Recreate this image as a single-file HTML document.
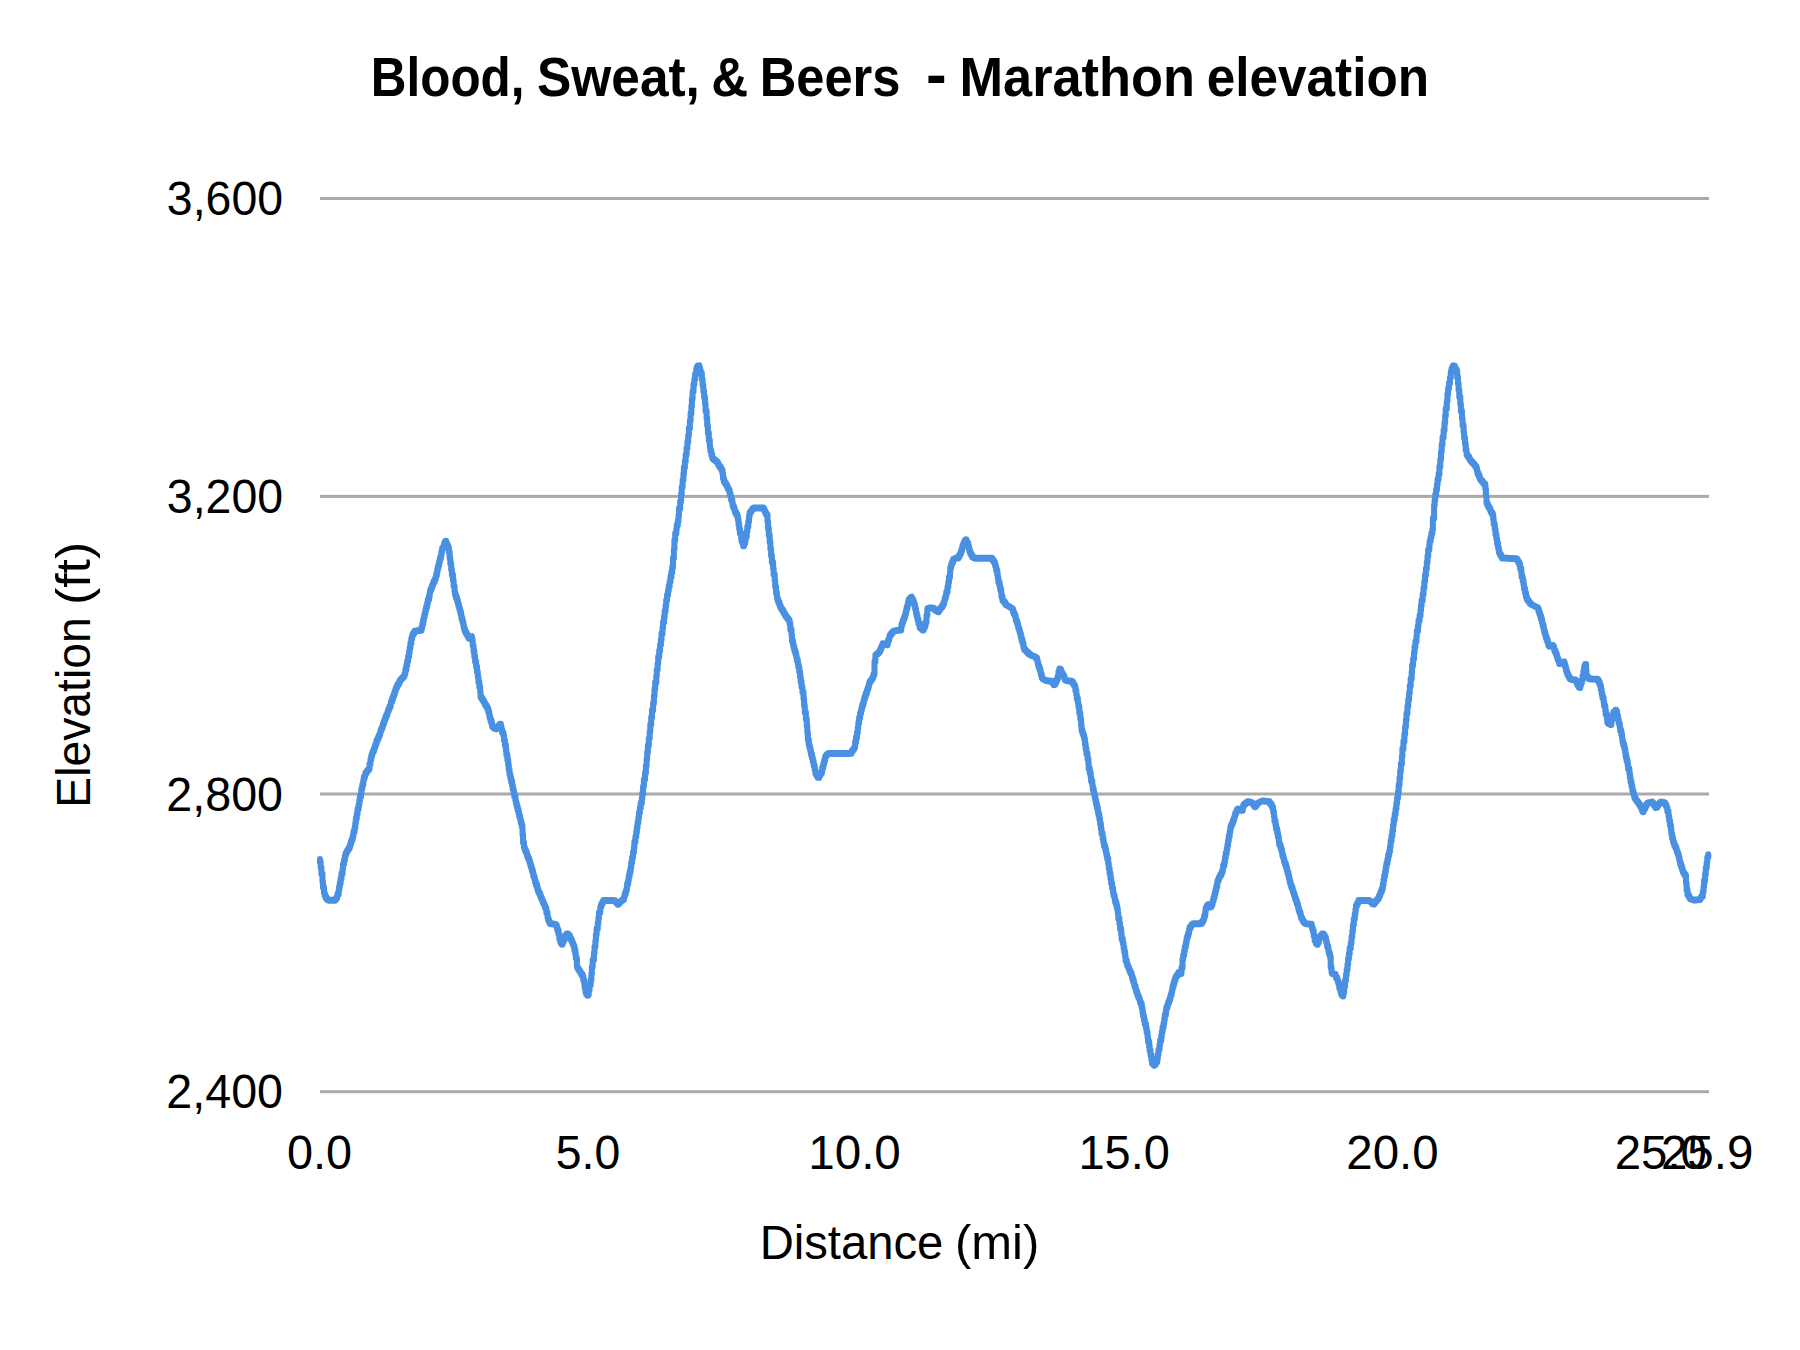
<!DOCTYPE html>
<html><head><meta charset="utf-8"><title>Blood, Sweat, &amp; Beers - Marathon elevation</title>
<style>
html,body{margin:0;padding:0;background:#fff;}
svg{display:block;}
text{font-family:"Liberation Sans",sans-serif;fill:#000;white-space:pre;}
</style></head><body>
<svg width="1800" height="1350" viewBox="0 0 1800 1350">
<rect width="1800" height="1350" fill="#ffffff"/>
<rect x="320" y="197" width="1389" height="3" fill="#aaaaaa"/><rect x="320" y="494.9" width="1389" height="3" fill="#aaaaaa"/><rect x="320" y="792.5" width="1389" height="3" fill="#aaaaaa"/><rect x="320" y="1090.2" width="1389" height="3" fill="#aaaaaa"/>
<g transform="scale(1,1.15)"><polyline fill="none" stroke="#4a90e2" stroke-width="6.05" stroke-linejoin="round" stroke-linecap="round" points="320.0,747.39 320.0,749.74 320.7,749.74 320.7,754.45 321.4,754.45 321.4,760.00 322.5,760.00 322.5,766.96 323.0,766.96 323.0,771.74 324.0,771.74 324.0,776.52 324.7,776.52 324.7,778.35 325.4,778.35 325.4,780.17 326.4,780.17 326.4,781.53 327.0,781.53 327.0,782.12 328.0,782.12 328.0,782.71 328.6,782.75 329.4,782.78 330.4,782.78 331.4,782.78 331.8,782.78 332.7,782.78 333.7,782.78 334.6,782.78 335.2,782.78 335.2,782.07 336.0,782.07 336.0,781.13 337.0,781.13 337.0,779.86 337.4,779.86 337.4,777.61 338.6,777.61 338.6,774.67 339.1,774.67 339.1,771.31 339.8,771.31 339.8,767.95 340.6,767.95 340.6,763.90 341.5,763.90 341.5,759.62 342.6,759.62 342.6,755.34 343.0,755.34 343.0,751.40 344.0,751.40 344.0,748.02 344.9,748.02 344.9,744.63 345.5,744.63 345.5,742.34 346.4,742.34 346.4,741.14 347.0,741.14 347.0,739.93 347.8,739.93 347.8,738.72 348.7,738.72 348.7,737.51 349.7,737.51 349.7,735.67 350.4,735.67 350.4,733.62 351.1,733.62 351.1,731.57 352.0,731.57 352.0,729.53 352.8,729.53 352.8,726.74 353.5,726.74 353.5,723.22 354.6,723.22 354.6,719.71 355.3,719.71 355.3,715.72 355.9,715.72 355.9,711.57 356.8,711.57 356.8,707.42 357.6,707.42 357.6,703.43 358.6,703.43 358.6,699.91 359.3,699.91 359.3,696.39 359.9,696.39 359.9,692.87 361.0,692.87 361.0,689.34 361.4,689.34 361.4,685.76 362.4,685.76 362.4,682.18 363.3,682.18 363.3,678.60 363.8,678.60 363.8,676.13 364.8,676.13 364.8,674.28 365.4,674.28 365.4,672.44 366.5,672.44 366.5,670.98 367.3,670.98 367.3,670.16 368.0,670.16 368.0,669.34 369.0,669.34 369.0,668.47 369.5,668.47 369.5,664.43 370.5,664.43 370.5,660.38 371.3,660.38 371.3,657.18 372.1,657.18 372.1,655.28 372.8,655.28 372.8,653.39 373.8,653.39 373.8,651.50 374.6,651.50 374.6,649.60 375.2,649.60 375.2,647.71 376.1,647.71 376.1,645.82 376.6,645.82 376.6,643.92 377.7,643.92 377.7,642.08 378.5,642.08 378.5,640.26 379.5,640.26 379.5,638.43 380.2,638.43 380.2,636.61 380.7,636.61 380.7,634.78 381.6,634.78 381.6,632.96 382.5,632.96 382.5,631.13 383.0,631.13 383.0,629.30 384.0,629.30 384.0,627.44 384.6,627.44 384.6,625.58 385.4,625.58 385.4,623.72 386.2,623.72 386.2,621.86 387.3,621.86 387.3,620.00 387.8,620.00 387.8,618.15 388.7,618.15 388.7,616.29 389.6,616.29 389.6,614.31 390.6,614.31 390.6,612.22 391.0,612.22 391.0,610.13 392.0,610.13 392.0,608.05 392.8,608.05 392.8,605.96 393.8,605.96 393.8,603.87 394.6,603.87 394.6,601.78 395.4,601.78 395.4,599.70 395.9,599.70 395.9,598.25 396.8,598.25 396.8,596.87 397.5,596.87 397.5,595.50 398.6,595.50 398.6,594.12 399.4,594.12 399.4,592.75 399.8,592.75 399.8,591.78 400.7,591.78 400.7,590.94 401.5,590.94 401.5,590.10 402.3,590.10 402.3,589.26 403.2,589.26 403.2,588.41 404.1,588.41 404.1,587.57 404.7,587.57 404.7,585.94 405.4,585.94 405.4,582.23 406.4,582.23 406.4,578.52 407.2,578.52 407.2,574.81 408.1,574.81 408.1,570.99 409.0,570.99 409.0,567.08 409.7,567.08 409.7,563.17 410.4,563.17 410.4,559.25 411.3,559.25 411.3,555.34 412.1,555.34 412.1,552.79 412.6,552.79 412.6,551.47 413.8,551.47 413.8,550.15 414.6,550.15 414.6,548.83 415.4,548.73 416.2,548.59 416.8,548.52 417.6,548.44 418.2,548.37 419.3,548.29 419.8,548.22 420.6,548.14 421.5,548.10 421.5,545.71 422.3,545.71 422.3,542.65 423.1,542.65 423.1,539.60 423.8,539.60 423.8,536.55 424.6,536.55 424.6,533.54 425.4,533.54 425.4,530.53 426.2,530.53 426.2,527.52 427.2,527.52 427.2,524.51 427.8,524.51 427.8,521.50 429.0,521.50 429.0,518.49 429.7,518.49 429.7,515.47 430.2,515.47 430.2,513.24 431.1,513.24 431.1,511.43 431.9,511.43 431.9,509.61 432.8,509.61 432.8,507.79 433.4,507.79 433.4,505.97 434.6,505.97 434.6,504.15 435.5,504.15 435.5,502.34 436.0,502.34 436.0,500.52 436.8,500.52 436.8,497.61 437.4,497.61 437.4,494.59 438.2,494.59 438.2,491.56 439.1,491.56 439.1,488.54 439.9,488.54 439.9,485.52 441.0,485.52 441.0,482.49 441.5,482.49 441.5,479.47 442.2,479.47 442.2,476.80 443.5,476.80 443.5,475.02 444.0,475.02 444.0,473.23 444.7,473.23 444.7,471.45 445.6,471.45 445.6,470.73 446.2,470.73 446.2,472.70 447.2,472.70 447.2,474.67 448.3,474.67 448.3,476.63 449.0,476.63 449.0,480.52 449.7,480.52 449.7,485.39 450.3,485.39 450.3,490.26 451.2,490.26 451.2,495.13 451.9,495.13 451.9,500.00 453.0,500.00 453.0,504.87 453.6,504.87 453.6,509.74 454.6,509.74 454.6,514.53 455.1,514.53 455.1,517.08 455.9,517.08 455.9,519.64 457.0,519.64 457.0,522.19 457.9,522.19 457.9,524.75 458.6,524.75 458.6,527.30 459.4,527.30 459.4,529.86 460.2,529.86 460.2,532.41 461.0,532.41 461.0,535.06 461.5,535.06 461.5,537.82 462.4,537.82 462.4,540.59 463.2,540.59 463.2,543.35 463.8,543.35 463.8,546.12 464.6,546.12 464.6,548.50 465.5,548.50 465.5,549.93 466.3,549.93 466.3,551.35 467.3,551.35 467.3,552.78 468.3,552.78 468.3,554.21 468.8,554.21 468.8,555.08 469.9,554.84 470.7,554.36 471.5,553.88 472.0,553.64 472.0,556.64 472.7,556.64 472.7,561.38 473.5,561.38 473.5,566.13 474.3,566.13 474.3,570.87 475.1,570.87 475.1,575.43 476.1,575.43 476.1,579.83 477.0,579.83 477.0,584.24 477.8,584.24 477.8,588.64 478.4,588.64 478.4,593.04 479.3,593.04 479.3,597.44 480.2,597.44 480.2,601.85 480.6,601.85 480.6,606.25 481.7,606.25 481.7,607.67 482.6,607.67 482.6,608.82 483.4,608.82 483.4,609.97 484.2,609.97 484.2,611.12 484.8,611.12 484.8,612.28 485.5,612.28 485.5,613.43 486.6,613.43 486.6,614.58 487.2,614.58 487.2,616.16 488.2,616.16 488.2,618.76 489.1,618.76 489.1,621.36 489.6,621.36 489.6,623.95 490.4,623.95 490.4,626.55 491.5,626.55 491.5,629.15 492.1,629.15 492.1,631.42 492.7,631.42 492.7,632.07 493.5,632.07 493.5,632.72 494.3,632.72 494.3,633.37 495.4,633.58 496.2,633.79 496.2,633.08 496.7,633.08 496.7,632.37 497.8,632.37 497.8,631.66 498.7,631.66 498.7,630.95 499.3,630.95 499.3,630.24 500.0,630.24 500.0,629.69 500.9,629.69 500.9,632.22 501.5,632.22 501.5,634.75 502.2,634.75 502.2,637.28 503.5,637.28 503.5,639.81 504.1,639.81 504.1,643.90 504.9,643.90 504.9,648.12 505.9,648.12 505.9,652.34 506.4,652.34 506.4,656.56 507.4,656.56 507.4,660.78 508.2,660.78 508.2,665.00 508.7,665.00 508.7,669.22 509.5,669.22 509.5,673.15 510.3,673.15 510.3,676.39 511.1,676.39 511.1,679.63 512.1,679.63 512.1,682.87 512.7,682.87 512.7,686.11 513.6,686.11 513.6,689.35 514.3,689.35 514.3,692.59 515.4,692.59 515.4,695.83 516.0,695.83 516.0,698.76 516.8,698.76 516.8,701.56 517.7,701.56 517.7,704.35 518.6,704.35 518.6,707.15 519.2,707.15 519.2,709.94 520.3,709.94 520.3,712.74 520.8,712.74 520.8,715.53 521.7,715.53 521.7,718.56 522.5,718.56 522.5,725.55 523.0,725.55 523.0,732.54 524.0,732.54 524.0,736.71 524.7,736.71 524.7,738.63 525.4,738.63 525.4,740.54 526.6,740.54 526.6,742.45 527.1,742.45 527.1,744.37 528.0,744.37 528.0,746.28 529.0,746.28 529.0,748.20 529.7,748.20 529.7,750.14 530.4,750.14 530.4,752.52 531.3,752.52 531.3,754.91 532.1,754.91 532.1,757.30 533.0,757.30 533.0,759.69 533.4,759.69 533.4,762.08 534.5,762.08 534.5,764.47 535.1,764.47 535.1,766.86 535.9,766.86 535.9,769.25 537.0,769.25 537.0,771.64 537.7,771.64 537.7,774.03 538.5,774.03 538.5,775.87 539.4,775.87 539.4,777.47 540.3,777.47 540.3,779.07 540.8,779.07 540.8,780.67 541.7,780.67 541.7,782.26 542.5,782.26 542.5,783.86 543.3,783.86 543.3,785.46 544.1,785.46 544.1,787.05 544.8,787.05 544.8,788.60 545.7,788.60 545.7,790.14 546.4,790.14 546.4,793.61 547.5,793.61 547.5,797.52 548.1,797.52 548.1,799.84 549.0,799.84 549.0,801.79 549.9,801.79 549.9,803.15 550.3,803.19 551.3,803.27 552.3,803.34 553.0,803.42 553.5,803.49 554.3,803.57 555.2,803.64 555.8,803.93 556.7,804.18 556.7,806.51 557.4,806.51 557.4,808.84 558.5,808.84 558.5,812.39 559.4,812.39 559.4,816.48 560.3,816.48 560.3,818.90 560.7,818.90 560.7,820.04 561.8,820.04 561.8,821.18 562.5,821.18 562.5,819.83 563.1,819.83 563.1,817.92 564.2,817.92 564.2,816.00 565.1,816.00 565.1,814.65 565.5,814.65 565.5,813.42 566.7,813.42 566.7,812.19 567.2,812.13 568.0,812.08 568.0,812.83 569.1,812.83 569.1,813.58 569.8,813.58 569.8,814.60 570.3,814.60 570.3,816.23 571.2,816.23 571.2,817.85 572.1,817.85 572.1,819.47 572.8,819.47 572.8,821.10 573.5,821.10 573.5,822.85 574.4,822.85 574.4,826.33 575.4,826.33 575.4,829.81 575.8,829.81 575.8,833.28 576.9,833.28 576.9,840.95 577.6,840.95 577.6,842.04 578.2,842.04 578.2,843.14 579.2,843.14 579.2,844.23 580.1,844.23 580.1,845.33 580.9,845.33 580.9,846.42 581.4,846.42 581.4,847.52 582.7,847.52 582.7,849.26 583.4,849.26 583.4,852.37 584.3,852.37 584.3,855.49 584.7,855.49 584.7,858.94 585.5,858.94 585.5,862.42 586.2,862.42 586.2,864.29 587.4,864.29 587.4,865.47 587.9,865.47 587.9,864.91 588.7,864.91 588.7,860.74 589.6,860.74 589.6,856.57 590.7,856.57 590.7,852.39 591.4,852.39 591.4,846.60 591.9,846.60 591.9,840.73 592.7,840.73 592.7,834.85 593.9,834.85 593.9,828.98 594.5,828.98 594.5,823.39 595.4,823.39 595.4,818.15 595.9,818.15 595.9,812.91 596.6,812.91 596.6,807.67 597.8,807.67 597.8,802.57 598.4,802.57 598.4,798.02 599.0,798.02 599.0,793.47 600.3,793.47 600.3,788.92 600.9,788.92 600.9,787.33 601.8,787.33 601.8,785.89 602.3,785.89 602.3,784.46 603.4,784.46 603.4,783.13 603.8,783.13 605.0,783.13 605.6,783.13 606.4,783.13 607.3,783.13 608.3,783.13 608.7,783.13 609.5,783.13 610.5,783.13 611.1,783.13 611.9,783.13 612.7,783.13 613.4,783.13 614.3,783.16 615.2,783.20 615.2,784.02 616.0,784.02 616.0,784.85 617.0,784.85 617.0,785.68 617.6,785.68 617.6,786.38 618.5,786.38 618.5,785.73 619.1,785.73 619.1,785.09 620.0,785.09 620.0,784.44 620.6,784.44 620.6,783.79 621.5,783.79 621.5,783.14 622.2,783.14 622.2,782.50 623.4,782.50 623.4,781.85 624.1,781.85 624.1,779.72 624.7,779.72 624.7,777.30 625.7,777.30 625.7,774.88 626.7,774.88 626.7,772.22 627.1,772.22 627.1,768.68 628.2,768.68 628.2,765.14 628.8,765.14 628.8,761.59 629.7,761.59 629.7,758.05 630.6,758.05 630.6,754.51 631.2,754.51 631.2,750.28 632.1,750.28 632.1,745.76 633.0,745.76 633.0,741.25 633.9,741.25 633.9,736.73 634.4,736.73 634.4,732.22 635.4,732.22 635.4,727.70 636.2,727.70 636.2,723.47 636.9,723.47 636.9,719.29 637.6,719.29 637.6,715.12 638.4,715.12 638.4,710.94 639.0,710.94 639.0,706.77 639.9,706.77 639.9,702.60 640.7,702.60 640.7,698.42 641.8,698.42 641.8,694.25 642.3,694.25 642.3,689.92 643.1,689.92 643.1,683.97 643.9,683.97 643.9,678.02 645.0,678.02 645.0,672.07 645.9,672.07 645.9,666.12 646.6,666.12 646.6,660.18 647.2,660.18 647.2,654.23 647.9,654.23 647.9,648.28 648.8,648.28 648.8,642.27 649.7,642.27 649.7,636.12 650.3,636.12 650.3,629.98 651.2,629.98 651.2,623.83 652.0,623.83 652.0,617.69 653.1,617.69 653.1,611.54 653.9,611.54 653.9,605.40 654.5,605.40 654.5,599.26 655.1,599.26 655.1,593.65 656.3,593.65 656.3,588.07 656.8,588.07 656.8,582.49 657.6,582.49 657.6,576.91 658.2,576.91 658.2,571.33 659.2,571.33 659.2,565.88 660.1,565.88 660.1,560.94 660.9,560.94 660.9,555.99 661.5,555.99 661.5,551.04 662.5,551.04 662.5,546.09 663.0,546.09 663.0,541.14 664.0,541.14 664.0,536.29 664.7,536.29 664.7,531.51 665.6,531.51 665.6,526.73 666.2,526.73 666.2,521.94 667.0,521.94 667.0,517.62 668.0,517.62 668.0,513.60 668.7,513.60 668.7,509.59 669.7,509.59 669.7,505.57 670.5,505.57 670.5,501.56 671.4,501.56 671.4,497.55 672.2,497.55 672.2,493.17 673.0,493.17 673.0,485.37 673.9,485.37 673.9,477.58 674.4,477.58 674.4,469.78 675.2,469.78 675.2,463.96 676.3,463.96 676.3,460.37 676.7,460.37 676.7,456.79 677.8,456.79 677.8,453.20 678.5,453.20 678.5,448.39 679.0,448.39 679.0,442.21 680.2,442.21 680.2,436.03 681.1,436.03 681.1,429.86 681.7,429.86 681.7,423.68 682.6,423.68 682.6,417.71 683.4,417.71 683.4,412.13 683.9,412.13 683.9,406.56 684.9,406.56 684.9,400.98 685.7,400.98 685.7,395.40 686.6,395.40 686.6,389.82 687.4,389.82 687.4,384.24 688.2,384.24 688.2,378.67 688.9,378.67 688.9,372.48 689.9,372.48 689.9,366.06 690.6,366.06 690.6,359.64 691.4,359.64 691.4,353.22 691.9,353.22 691.9,346.80 692.6,346.80 692.6,340.38 693.5,340.38 693.5,334.17 694.4,334.17 694.4,329.81 695.1,329.81 695.1,325.44 696.2,325.44 696.2,321.08 696.9,321.08 696.9,319.40 697.7,319.40 697.7,318.18 698.5,318.14 699.4,318.11 699.4,320.14 700.1,320.14 700.1,322.18 700.6,322.18 700.6,324.54 701.8,324.54 701.8,329.74 702.6,329.74 702.6,334.94 703.3,334.94 703.3,340.14 704.1,340.14 704.1,345.34 705.0,345.34 705.0,350.95 705.5,350.95 705.5,357.33 706.6,357.33 706.6,363.70 707.2,363.70 707.2,370.08 707.9,370.08 707.9,376.46 708.8,376.46 708.8,382.83 709.8,382.83 709.8,388.55 710.3,388.55 710.3,392.06 711.4,392.06 711.4,395.56 712.3,395.56 712.3,398.39 712.9,398.39 712.9,398.96 713.6,398.96 713.6,399.53 714.5,399.53 714.5,400.10 715.4,400.10 715.4,400.66 716.2,400.66 716.2,401.23 716.9,401.23 716.9,401.87 717.8,401.87 717.8,403.05 718.3,403.05 718.3,404.23 719.1,404.23 719.1,405.41 720.0,405.41 720.0,406.59 721.0,406.59 721.0,407.77 721.6,407.77 721.6,408.96 722.5,408.96 722.5,411.70 723.0,411.70 723.0,416.10 723.9,416.10 723.9,418.63 724.8,418.63 724.8,419.94 725.8,419.94 725.8,421.26 726.6,421.26 726.6,422.57 727.4,422.57 727.4,423.88 728.0,423.88 728.0,425.20 728.9,425.20 728.9,426.51 729.7,426.51 729.7,429.08 730.5,429.08 730.5,431.84 731.1,431.84 731.1,434.61 732.3,434.61 732.3,437.37 732.7,437.37 732.7,440.14 733.9,440.14 733.9,442.12 734.7,442.12 734.7,443.82 735.0,443.82 735.0,445.51 736.1,445.51 736.1,447.21 737.1,447.21 737.1,448.91 737.9,448.91 737.9,451.97 738.5,451.97 738.5,455.91 739.2,455.91 739.2,459.84 739.9,459.84 739.9,463.77 741.1,463.77 741.1,467.70 741.5,467.70 741.5,470.46 742.5,470.46 742.5,472.48 743.1,472.48 743.1,474.50 744.1,474.50 744.1,472.42 745.1,472.42 745.1,470.30 745.5,470.30 745.5,467.01 746.7,467.01 746.7,462.49 747.3,462.49 747.3,457.98 748.3,457.98 748.3,453.46 749.0,453.46 749.0,448.95 749.6,448.95 749.6,445.78 750.7,445.78 750.7,444.93 751.3,444.93 751.3,444.08 751.9,444.08 751.9,443.23 752.6,443.23 752.6,442.38 753.7,442.38 753.7,441.74 754.5,441.74 755.2,441.74 755.9,441.74 756.8,441.74 757.6,441.74 758.7,441.74 759.0,441.74 760.2,441.74 761.1,441.74 761.5,441.74 762.7,441.74 763.4,441.74 763.4,442.55 764.3,442.55 764.3,443.87 764.8,443.87 764.8,445.19 765.6,445.19 765.6,446.50 766.4,446.50 766.4,447.82 767.5,447.82 767.5,453.71 768.1,453.71 768.1,459.62 768.8,459.62 768.8,465.52 769.7,465.52 769.7,471.43 770.4,471.43 770.4,477.34 771.1,477.34 771.1,483.25 771.9,483.25 771.9,488.93 773.1,488.93 773.1,494.24 773.6,494.24 773.6,499.54 774.7,499.54 774.7,504.85 775.2,504.85 775.2,510.15 776.0,510.15 776.0,515.46 776.9,515.46 776.9,519.59 777.5,519.59 777.5,521.74 778.4,521.74 778.4,523.89 779.5,523.89 779.5,526.04 780.3,526.04 780.3,527.94 781.1,527.94 781.1,529.08 781.8,529.08 781.8,530.23 782.7,530.23 782.7,531.37 783.5,531.37 783.5,532.52 784.1,532.52 784.1,533.66 785.0,533.66 785.0,534.81 785.5,534.81 785.5,535.95 786.6,535.95 786.6,536.96 787.3,536.96 787.3,537.83 788.2,537.83 788.2,538.70 789.0,538.70 789.0,539.57 789.6,539.57 789.6,542.46 790.3,542.46 790.3,547.35 791.5,547.35 791.5,552.25 791.9,552.25 791.9,557.14 792.9,557.14 792.9,560.19 793.6,560.19 793.6,562.99 794.4,562.99 794.4,565.78 795.4,565.78 795.4,568.58 796.3,568.58 796.3,571.37 796.8,571.37 796.8,574.16 797.8,574.16 797.8,576.96 798.4,576.96 798.4,580.12 799.3,580.12 799.3,584.37 800.1,584.37 800.1,588.61 800.7,588.61 800.7,592.86 801.5,592.86 801.5,597.10 802.4,597.10 802.4,601.77 803.5,601.77 803.5,607.69 804.1,607.69 804.1,613.60 804.8,613.60 804.8,619.51 805.9,619.51 805.9,625.43 806.8,625.43 806.8,631.34 807.3,631.34 807.3,637.26 807.9,637.26 807.9,643.17 808.8,643.17 808.8,647.55 809.5,647.55 809.5,650.44 810.4,650.44 810.4,653.33 811.1,653.33 811.1,656.21 812.0,656.21 812.0,659.10 812.8,659.10 812.8,662.25 813.7,662.25 813.7,665.66 814.7,665.66 814.7,669.07 815.4,669.07 815.4,672.47 816.1,672.47 816.1,673.77 816.9,673.77 816.9,674.79 817.7,674.79 817.7,675.81 818.4,675.87 819.2,675.94 819.2,674.65 819.9,674.65 819.9,673.37 820.8,673.37 820.8,672.08 821.9,672.08 821.9,670.34 822.3,670.34 822.3,667.33 823.3,667.33 823.3,664.31 824.2,664.31 824.2,661.30 825.1,661.30 825.1,658.56 825.6,658.56 825.6,657.54 826.4,657.54 826.4,656.52 827.2,656.52 827.2,655.50 828.1,655.32 828.9,655.13 829.9,655.13 830.7,655.13 831.5,655.13 831.9,655.13 832.7,655.13 833.8,655.13 834.7,655.13 835.3,655.13 836.2,655.13 836.7,655.13 837.7,655.13 838.7,655.13 839.5,655.13 840.3,655.13 841.1,655.13 841.6,655.13 842.3,655.13 843.1,655.13 844.1,655.13 845.0,655.13 845.9,655.13 846.6,655.13 847.4,655.13 848.2,655.13 848.9,655.13 849.7,655.13 850.3,655.06 851.5,654.98 851.5,653.95 852.0,653.95 852.0,652.91 853.1,652.91 853.1,651.88 853.8,651.88 853.8,650.84 854.4,650.84 854.4,649.74 855.1,649.74 855.1,645.52 856.0,645.52 856.0,641.30 857.0,641.30 857.0,637.07 857.8,637.07 857.8,632.85 858.3,632.85 858.3,628.63 859.1,628.63 859.1,624.40 860.1,624.40 860.1,620.18 861.0,620.18 861.0,617.59 861.7,617.59 861.7,615.18 862.4,615.18 862.4,612.78 863.4,612.78 863.4,610.38 863.9,610.38 863.9,607.98 864.8,607.98 864.8,605.57 865.7,605.57 865.7,603.25 866.7,603.25 866.7,601.15 867.4,601.15 867.4,599.04 868.3,599.04 868.3,596.94 868.9,596.94 868.9,594.84 869.6,594.84 869.6,592.89 870.4,592.89 870.4,591.84 871.5,591.84 871.5,590.80 872.2,590.80 872.2,589.76 872.8,589.76 872.8,588.71 873.5,588.71 873.5,586.20 874.5,586.20 874.5,575.33 875.4,575.33 875.4,569.86 876.1,569.86 876.1,569.25 876.8,569.25 876.8,568.64 877.8,568.64 877.8,568.03 878.7,568.03 878.7,567.43 879.2,567.43 879.2,566.82 879.9,566.82 879.9,565.39 880.8,565.39 880.8,563.51 881.7,563.51 881.7,561.63 882.6,561.63 882.6,559.75 883.2,559.75 884.3,559.86 885.0,560.07 885.7,560.28 886.4,560.48 887.6,560.59 887.6,558.82 888.0,558.82 888.0,556.84 889.1,556.84 889.1,554.85 889.6,554.85 889.6,552.87 890.4,552.87 890.4,551.73 891.5,551.73 891.5,550.82 892.0,550.82 892.0,549.92 893.1,549.92 893.1,549.01 893.7,548.82 894.4,548.58 895.2,548.48 896.1,548.38 897.0,548.28 897.9,548.18 898.3,548.07 899.3,547.97 900.0,547.84 901.2,547.76 901.2,545.55 901.5,545.55 901.5,543.34 902.3,543.34 902.3,541.14 903.1,541.14 903.1,538.93 904.1,538.93 904.1,536.72 905.1,536.72 905.1,534.01 905.9,534.01 905.9,531.24 906.6,531.24 906.6,528.48 907.6,528.48 907.6,525.71 908.3,525.71 908.3,522.95 908.8,522.95 908.8,521.55 909.6,521.55 909.6,520.53 910.7,520.53 910.7,519.51 911.5,519.39 911.9,519.27 911.9,521.00 913.0,521.00 913.0,522.73 913.7,522.73 913.7,524.46 914.5,524.46 914.5,526.42 915.2,526.42 915.2,529.57 916.0,529.57 916.0,532.72 916.7,532.72 916.7,535.88 917.6,535.88 917.6,539.03 918.5,539.03 918.5,542.18 919.6,542.18 919.6,545.24 919.9,545.24 919.9,545.89 921.2,545.89 921.2,546.55 921.6,546.55 921.6,547.20 922.5,547.20 922.5,547.78 923.5,547.78 923.5,546.58 924.3,546.58 924.3,545.38 924.9,545.38 924.9,544.18 925.5,544.18 925.5,541.03 926.5,541.03 926.5,535.12 927.3,535.12 927.3,529.20 928.3,528.95 928.8,528.70 929.7,528.70 930.7,528.70 931.1,528.70 932.1,528.70 933.1,528.81 933.9,528.93 933.9,529.48 934.3,529.48 934.3,530.04 935.1,530.04 935.1,530.60 935.9,530.60 935.9,531.15 937.1,531.15 937.1,531.71 937.6,531.86 938.7,532.02 938.7,531.07 939.5,531.07 939.5,530.13 940.1,530.13 940.1,529.18 940.8,529.18 940.8,528.24 942.0,528.24 942.0,527.29 942.6,527.29 942.6,526.34 943.2,526.34 943.2,524.71 944.2,524.71 944.2,522.49 944.8,522.49 944.8,520.27 945.6,520.27 945.6,518.05 946.3,518.05 946.3,514.74 947.5,514.74 947.5,510.51 948.3,510.51 948.3,506.27 949.0,506.27 949.0,502.04 950.0,502.04 950.0,497.80 950.3,497.80 950.3,493.57 951.2,493.57 951.2,490.75 952.1,490.75 952.1,488.64 953.2,488.64 953.2,486.52 954.0,486.52 954.0,485.89 954.5,485.77 955.2,485.55 956.1,485.42 956.9,485.34 958.0,485.26 958.4,485.22 958.4,483.88 959.5,483.88 959.5,482.43 960.3,482.43 960.3,480.98 961.1,480.98 961.1,478.89 961.9,478.89 961.9,476.75 962.6,476.75 962.6,474.61 963.3,474.61 963.3,472.92 964.0,472.92 964.0,471.45 964.9,471.45 964.9,469.99 965.9,469.99 965.9,469.43 966.3,469.43 966.3,471.02 967.2,471.02 967.2,472.60 968.3,472.60 968.3,474.36 968.8,474.36 968.8,476.89 969.5,476.89 969.5,479.42 970.3,479.42 970.3,481.45 971.4,481.45 971.4,482.81 972.1,482.81 972.1,484.17 973.2,484.17 973.2,484.82 973.9,484.98 974.8,485.30 975.2,485.47 975.9,485.48 976.7,485.48 977.7,485.48 978.6,485.48 979.3,485.48 980.0,485.48 980.9,485.48 981.8,485.48 982.6,485.48 983.5,485.48 984.3,485.48 985.0,485.48 985.6,485.48 986.7,485.48 987.2,485.48 988.2,485.48 988.9,485.48 989.9,485.48 990.4,485.48 991.2,485.48 992.0,485.48 992.0,486.30 992.8,486.30 992.8,487.50 993.9,487.50 993.9,488.70 994.6,488.70 994.6,489.90 995.3,489.90 995.3,492.36 996.1,492.36 996.1,495.82 997.2,495.82 997.2,499.28 997.8,499.28 997.8,502.74 998.4,502.74 998.4,506.20 999.5,506.20 999.5,509.41 1000.2,509.41 1000.2,512.59 1001.2,512.59 1001.2,515.77 1001.5,515.77 1001.5,518.96 1002.5,518.96 1002.5,522.14 1003.5,522.14 1003.5,523.13 1004.3,523.13 1004.3,523.97 1005.2,523.97 1005.2,524.81 1005.5,524.81 1005.5,525.65 1006.4,525.65 1006.4,526.23 1007.2,526.45 1008.0,526.91 1009.2,527.37 1009.8,527.82 1010.8,528.28 1011.3,528.74 1012.3,528.96 1012.3,529.51 1012.9,529.51 1012.9,531.48 1013.6,531.48 1013.6,533.45 1014.7,533.45 1014.7,535.42 1015.6,535.42 1015.6,537.50 1016.0,537.50 1016.0,539.72 1017.0,539.72 1017.0,541.95 1017.8,541.95 1017.8,544.18 1018.4,544.18 1018.4,546.40 1019.3,546.40 1019.3,548.63 1020.0,548.63 1020.0,550.97 1020.8,550.97 1020.8,553.83 1021.6,553.83 1021.6,556.68 1022.6,556.68 1022.6,559.54 1023.4,559.54 1023.4,562.39 1024.0,562.39 1024.0,564.57 1024.7,564.57 1024.7,565.26 1025.7,565.26 1025.7,565.96 1026.6,565.96 1026.6,566.65 1027.2,566.65 1027.2,567.35 1028.1,567.35 1028.1,568.05 1028.8,568.05 1028.8,568.74 1029.9,568.74 1029.9,569.44 1030.6,569.59 1031.1,569.87 1032.0,570.15 1032.9,570.42 1033.8,570.69 1034.6,570.97 1035.2,571.24 1036.0,571.38 1036.0,572.30 1037.1,572.30 1037.1,574.62 1037.7,574.62 1037.7,576.94 1038.4,576.94 1038.4,579.26 1039.3,579.26 1039.3,581.75 1040.4,581.75 1040.4,584.25 1040.9,584.25 1040.9,586.74 1041.8,586.74 1041.8,589.24 1042.5,589.24 1042.5,590.33 1043.3,590.57 1044.3,591.05 1045.2,591.52 1045.7,591.79 1046.4,591.87 1047.5,591.96 1048.0,592.04 1048.7,592.13 1050.0,592.22 1050.5,592.30 1051.5,592.39 1052.1,592.43 1052.1,593.40 1053.1,593.40 1053.1,594.42 1053.7,594.42 1053.7,595.44 1054.4,595.35 1055.1,595.26 1055.1,593.60 1056.2,593.60 1056.2,591.95 1057.0,591.95 1057.0,590.29 1058.0,590.29 1058.0,587.56 1058.4,587.56 1058.4,584.61 1059.4,584.61 1059.4,581.65 1060.1,581.65 1060.1,582.34 1061.0,582.34 1061.0,583.80 1061.6,583.80 1061.6,585.26 1062.5,585.26 1062.5,586.74 1063.4,586.74 1063.4,588.25 1064.4,588.25 1064.4,589.77 1064.8,589.77 1064.8,591.29 1065.8,591.54 1066.7,591.84 1067.6,591.93 1068.0,592.02 1068.8,592.10 1070.0,592.19 1070.8,592.28 1071.4,592.37 1071.9,592.41 1071.9,593.30 1073.2,593.30 1073.2,594.53 1073.7,594.53 1073.7,595.76 1074.8,595.76 1074.8,596.99 1075.4,596.99 1075.4,600.43 1076.3,600.43 1076.3,603.98 1076.8,603.98 1076.8,607.53 1077.9,607.53 1077.9,611.07 1078.4,611.07 1078.4,614.62 1079.3,614.62 1079.3,619.92 1080.3,619.92 1080.3,625.29 1081.1,625.29 1081.1,630.66 1081.6,630.66 1081.6,635.02 1082.4,635.02 1082.4,637.30 1083.3,637.30 1083.3,639.58 1084.2,639.58 1084.2,642.30 1084.9,642.30 1084.9,646.71 1085.6,646.71 1085.6,651.11 1086.4,651.11 1086.4,655.52 1087.5,655.52 1087.5,659.93 1088.4,659.93 1088.4,664.33 1088.7,664.33 1088.7,668.56 1089.8,668.56 1089.8,672.12 1090.7,672.12 1090.7,675.67 1091.1,675.67 1091.1,679.22 1092.3,679.22 1092.3,682.77 1092.8,682.77 1092.8,686.32 1093.8,686.32 1093.8,689.79 1094.6,689.79 1094.6,692.95 1095.4,692.95 1095.4,696.10 1096.1,696.10 1096.1,699.26 1096.9,699.26 1096.9,702.42 1097.8,702.42 1097.8,705.57 1098.5,705.57 1098.5,708.73 1099.4,708.73 1099.4,712.34 1100.1,712.34 1100.1,716.48 1100.9,716.48 1100.9,720.62 1101.5,720.62 1101.5,724.76 1102.6,724.76 1102.6,728.91 1103.4,728.91 1103.4,732.58 1104.0,732.58 1104.0,735.35 1105.1,735.35 1105.1,738.12 1105.9,738.12 1105.9,740.88 1106.5,740.88 1106.5,743.65 1107.2,743.65 1107.2,746.74 1108.2,746.74 1108.2,751.02 1108.8,751.02 1108.8,755.30 1109.6,755.30 1109.6,759.58 1110.5,759.58 1110.5,763.86 1111.2,763.86 1111.2,768.14 1112.1,768.14 1112.1,772.42 1113.0,772.42 1113.0,775.88 1113.5,775.88 1113.5,778.78 1114.6,778.78 1114.6,781.67 1115.2,781.67 1115.2,784.57 1116.3,784.57 1116.3,787.47 1117.1,787.47 1117.1,790.36 1117.8,790.36 1117.8,794.04 1118.3,794.04 1118.3,798.62 1119.4,798.62 1119.4,803.19 1120.1,803.19 1120.1,807.77 1121.2,807.77 1121.2,812.34 1121.6,812.34 1121.6,816.54 1122.8,816.54 1122.8,820.32 1123.6,820.32 1123.6,824.10 1124.3,824.10 1124.3,827.88 1125.1,827.88 1125.1,831.65 1125.6,831.65 1125.6,835.43 1126.8,835.43 1126.8,838.46 1127.4,838.46 1127.4,840.06 1128.4,840.06 1128.4,841.67 1129.2,841.67 1129.2,843.27 1129.6,843.27 1129.6,844.87 1130.7,844.87 1130.7,846.47 1131.6,846.47 1131.6,848.07 1132.0,848.07 1132.0,850.30 1132.9,850.30 1132.9,852.77 1133.9,852.77 1133.9,855.24 1134.4,855.24 1134.4,857.71 1135.6,857.71 1135.6,860.18 1136.1,860.18 1136.1,862.21 1137.1,862.21 1137.1,864.06 1137.6,864.06 1137.6,865.92 1138.6,865.92 1138.6,867.77 1139.6,867.77 1139.6,869.63 1140.0,869.63 1140.0,871.48 1140.9,871.48 1140.9,873.34 1141.8,873.34 1141.8,876.76 1142.5,876.76 1142.5,880.22 1143.1,880.22 1143.1,883.69 1144.0,883.69 1144.0,887.15 1144.8,887.15 1144.8,890.62 1146.0,890.62 1146.0,894.08 1146.7,894.08 1146.7,897.91 1147.6,897.91 1147.6,901.81 1148.0,901.81 1148.0,905.71 1149.1,905.71 1149.1,909.60 1149.6,909.60 1149.6,913.50 1150.6,913.50 1150.6,917.52 1151.4,917.52 1151.4,921.56 1152.1,921.56 1152.1,924.86 1153.2,924.86 1153.2,925.59 1153.8,925.59 1153.8,926.32 1154.6,926.32 1154.6,925.69 1155.6,925.69 1155.6,924.55 1156.0,924.55 1156.0,923.41 1157.2,923.41 1157.2,920.59 1157.8,920.59 1157.8,916.64 1158.5,916.64 1158.5,912.70 1159.5,912.70 1159.5,908.76 1160.1,908.76 1160.1,904.84 1161.2,904.84 1161.2,901.12 1161.8,901.12 1161.8,897.40 1162.5,897.40 1162.5,893.68 1163.5,893.68 1163.5,889.96 1164.2,889.96 1164.2,886.25 1164.8,886.25 1164.8,882.53 1165.9,882.53 1165.9,878.81 1166.4,878.81 1166.4,875.88 1167.5,875.88 1167.5,873.81 1168.1,873.81 1168.1,871.74 1169.1,871.74 1169.1,869.67 1170.0,869.67 1170.0,867.60 1170.6,867.60 1170.6,865.34 1171.5,865.34 1171.5,862.74 1172.1,862.74 1172.1,860.14 1172.7,860.14 1172.7,857.54 1173.6,857.54 1173.6,854.94 1174.4,854.94 1174.4,852.35 1175.4,852.35 1175.4,850.09 1176.2,850.09 1176.2,848.97 1177.0,848.97 1177.0,847.85 1178.0,847.85 1178.0,846.74 1178.4,846.74 1178.4,845.77 1179.2,845.92 1180.3,846.22 1180.7,846.52 1181.5,846.67 1181.5,841.78 1182.5,841.78 1182.5,834.06 1183.2,834.06 1183.2,830.56 1184.1,830.56 1184.1,827.06 1184.8,827.06 1184.8,823.57 1185.8,823.57 1185.8,820.07 1186.6,820.07 1186.6,816.58 1187.2,816.58 1187.2,814.03 1188.2,814.03 1188.2,811.50 1189.0,811.50 1189.0,808.97 1189.6,808.97 1189.6,806.44 1190.8,806.44 1190.8,805.36 1191.3,805.36 1191.3,804.51 1192.0,804.51 1192.0,803.65 1192.8,803.44 1193.9,803.22 1194.8,803.22 1195.5,803.22 1196.1,803.22 1196.9,803.22 1197.5,803.22 1198.7,803.22 1199.4,803.22 1200.1,803.22 1201.1,803.15 1201.8,803.07 1201.8,801.81 1202.8,801.81 1202.8,800.55 1203.5,800.55 1203.5,799.29 1204.1,799.29 1204.1,796.54 1205.2,796.54 1205.2,793.28 1205.6,793.28 1205.6,790.01 1206.6,790.01 1206.6,788.01 1207.3,788.01 1207.3,787.31 1208.1,787.31 1208.1,786.62 1208.8,786.62 1208.8,787.71 1209.9,787.71 1209.9,788.82 1210.3,788.68 1211.4,788.53 1211.4,786.78 1212.4,786.78 1212.4,785.03 1212.8,785.03 1212.8,783.28 1213.6,783.28 1213.6,780.32 1214.6,780.32 1214.6,777.18 1215.4,777.18 1215.4,774.04 1216.3,774.04 1216.3,770.90 1217.2,770.90 1217.2,767.77 1217.6,767.77 1217.6,765.79 1218.5,765.79 1218.5,764.21 1219.3,764.21 1219.3,762.64 1220.0,762.64 1220.0,761.06 1221.2,761.06 1221.2,759.49 1221.9,759.49 1221.9,757.91 1222.7,757.91 1222.7,756.10 1223.1,756.10 1223.1,752.55 1224.4,752.55 1224.4,749.00 1225.1,749.00 1225.1,745.45 1225.8,745.45 1225.8,741.89 1226.7,741.89 1226.7,738.34 1227.4,738.34 1227.4,734.75 1228.1,734.75 1228.1,730.85 1228.8,730.85 1228.8,726.95 1229.7,726.95 1229.7,723.05 1230.4,723.05 1230.4,719.15 1231.3,719.15 1231.3,717.15 1232.3,717.15 1232.3,715.16 1233.1,715.16 1233.1,713.17 1234.0,713.17 1234.0,711.19 1234.7,711.19 1234.7,709.20 1235.3,709.20 1235.3,707.21 1236.2,707.21 1236.2,705.68 1237.0,705.68 1237.0,704.22 1237.9,704.22 1237.9,703.44 1238.6,703.62 1239.3,703.97 1240.3,704.33 1241.2,704.68 1241.7,704.73 1242.8,704.60 1242.8,702.48 1243.2,702.48 1243.2,700.36 1244.1,700.36 1244.1,699.40 1244.9,699.40 1244.9,698.82 1245.9,698.82 1245.9,698.25 1246.8,698.25 1246.8,697.67 1247.5,697.67 1247.5,697.10 1248.1,697.11 1249.2,697.22 1249.7,697.43 1250.5,697.64 1251.6,697.84 1252.3,697.95 1252.3,698.71 1253.1,698.71 1253.1,699.67 1253.9,699.67 1253.9,700.62 1254.8,700.62 1254.8,701.56 1255.4,701.56 1255.4,700.70 1256.4,700.70 1256.4,699.83 1257.1,699.83 1257.1,698.97 1258.0,698.97 1258.0,698.11 1258.6,697.93 1259.5,697.60 1260.2,697.31 1260.9,697.03 1261.7,696.74 1262.7,696.58 1263.2,696.58 1264.4,696.64 1264.8,696.69 1265.6,696.74 1266.4,696.79 1267.6,696.84 1268.1,696.89 1268.8,697.01 1269.6,697.11 1269.6,698.26 1270.4,698.26 1270.4,699.41 1271.5,699.41 1271.5,700.57 1272.3,700.57 1272.3,702.07 1273.1,702.07 1273.1,705.91 1273.9,705.91 1273.9,709.75 1274.4,709.75 1274.4,713.59 1275.5,713.59 1275.5,717.42 1276.1,717.42 1276.1,720.90 1277.2,720.90 1277.2,724.38 1278.0,724.38 1278.0,727.86 1278.8,727.86 1278.8,731.34 1279.2,731.34 1279.2,734.40 1280.4,734.40 1280.4,736.80 1281.2,736.80 1281.2,739.21 1282.0,739.21 1282.0,741.61 1282.4,741.61 1282.4,744.01 1283.3,744.01 1283.3,746.41 1284.0,746.41 1284.0,748.82 1284.8,748.82 1284.8,751.33 1286.0,751.33 1286.0,753.89 1286.8,753.89 1286.8,756.44 1287.5,756.44 1287.5,759.00 1288.4,759.00 1288.4,761.56 1289.1,761.56 1289.1,764.11 1289.7,764.11 1289.7,766.67 1290.4,766.67 1290.4,769.16 1291.2,769.16 1291.2,771.24 1292.3,771.24 1292.3,773.33 1292.9,773.33 1292.9,775.42 1293.7,775.42 1293.7,777.51 1294.6,777.51 1294.6,779.59 1295.2,779.59 1295.2,781.68 1296.1,781.68 1296.1,783.77 1296.9,783.77 1296.9,786.01 1297.9,786.01 1297.9,788.41 1298.5,788.41 1298.5,790.81 1299.3,790.81 1299.3,793.20 1300.4,793.20 1300.4,795.60 1301.0,795.60 1301.0,798.00 1302.0,798.00 1302.0,799.28 1302.7,799.28 1302.7,800.43 1303.2,800.43 1303.2,801.57 1304.2,801.57 1304.2,802.72 1305.0,802.95 1305.9,803.22 1306.5,803.29 1307.5,803.37 1308.2,803.44 1308.9,803.52 1310.0,803.59 1310.4,803.67 1311.6,803.70 1311.6,804.95 1312.0,804.95 1312.0,807.28 1312.8,807.28 1312.8,809.64 1313.7,809.64 1313.7,813.73 1314.7,813.73 1314.7,817.83 1315.7,817.83 1315.7,819.28 1316.0,819.28 1316.0,820.42 1317.0,820.42 1317.0,821.13 1317.8,821.13 1317.8,819.29 1318.8,819.29 1318.8,817.45 1319.3,817.45 1319.3,815.63 1320.2,815.63 1320.2,814.49 1320.9,814.49 1320.9,813.34 1322.0,813.34 1322.0,812.20 1322.5,812.14 1323.6,812.07 1323.6,812.89 1324.1,812.89 1324.1,813.70 1324.9,813.70 1324.9,815.42 1325.9,815.42 1325.9,817.98 1326.6,817.98 1326.6,820.54 1327.2,820.54 1327.2,823.25 1328.3,823.25 1328.3,826.17 1328.8,826.17 1328.8,829.09 1330.0,829.09 1330.0,832.01 1330.7,832.01 1330.7,841.25 1331.6,841.25 1331.6,845.55 1332.3,845.55 1332.3,846.67 1332.9,846.76 1333.8,846.94 1334.6,847.14 1335.6,847.25 1335.6,848.74 1336.0,848.74 1336.0,850.23 1337.2,850.23 1337.2,851.72 1337.6,851.72 1337.6,853.21 1338.5,853.21 1338.5,855.74 1339.3,855.74 1339.3,859.22 1340.4,859.22 1340.4,862.04 1341.0,862.04 1341.0,863.88 1341.8,863.88 1341.8,865.39 1342.8,865.39 1342.8,866.04 1343.3,866.04 1343.3,862.98 1344.2,862.98 1344.2,857.94 1345.0,857.94 1345.0,852.90 1345.9,852.90 1345.9,847.87 1346.7,847.87 1346.7,843.22 1347.5,843.22 1347.5,838.57 1348.1,838.57 1348.1,833.92 1348.9,833.92 1348.9,829.26 1349.7,829.26 1349.7,824.61 1350.8,824.61 1350.8,819.96 1351.5,819.96 1351.5,814.92 1352.3,814.92 1352.3,809.68 1352.9,809.68 1352.9,804.45 1353.8,804.45 1353.8,799.21 1354.8,799.21 1354.8,794.60 1355.5,794.60 1355.5,790.93 1356.0,790.93 1356.0,787.57 1357.0,787.57 1357.0,785.94 1358.0,785.94 1358.0,784.31 1358.5,784.31 1358.5,783.13 1359.3,783.13 1360.1,783.13 1361.1,783.13 1362.0,783.13 1362.5,783.13 1363.3,783.13 1364.1,783.13 1364.9,783.13 1365.8,783.13 1366.5,783.13 1367.3,783.13 1368.1,783.13 1369.3,783.13 1369.9,783.25 1370.4,783.36 1370.4,784.19 1371.7,784.19 1371.7,785.02 1372.0,785.02 1372.0,785.84 1373.0,786.03 1374.1,786.22 1374.1,785.46 1374.8,785.46 1374.8,784.70 1375.5,784.70 1375.5,783.94 1376.2,783.94 1376.2,783.18 1376.9,783.18 1376.9,782.42 1377.9,782.42 1377.9,781.66 1378.4,781.66 1378.4,780.37 1379.3,780.37 1379.3,778.63 1380.2,778.63 1380.2,776.89 1380.8,776.89 1380.8,775.15 1381.8,775.15 1381.8,772.83 1382.8,772.83 1382.8,769.05 1383.5,769.05 1383.5,765.28 1384.2,765.28 1384.2,761.50 1385.1,761.50 1385.1,757.72 1385.8,757.72 1385.8,754.20 1386.5,754.20 1386.5,750.71 1387.5,750.71 1387.5,747.21 1388.2,747.21 1388.2,743.72 1389.2,743.72 1389.2,740.22 1390.0,740.22 1390.0,736.24 1390.6,736.24 1390.6,731.56 1391.5,731.56 1391.5,726.87 1392.4,726.87 1392.4,722.19 1393.0,722.19 1393.0,717.50 1393.7,717.50 1393.7,712.76 1394.7,712.76 1394.7,708.02 1395.6,708.02 1395.6,703.27 1396.4,703.27 1396.4,698.53 1397.1,698.53 1397.1,693.79 1398.0,693.79 1398.0,688.67 1398.7,688.67 1398.7,682.61 1399.5,682.61 1399.5,676.56 1400.2,676.56 1400.2,670.50 1400.9,670.50 1400.9,664.42 1401.9,664.42 1401.9,657.86 1402.4,657.86 1402.4,651.30 1403.4,651.30 1403.4,644.75 1404.4,644.75 1404.4,638.19 1405.1,638.19 1405.1,632.22 1405.9,632.22 1405.9,626.31 1406.5,626.31 1406.5,620.39 1407.4,620.39 1407.4,614.48 1408.2,614.48 1408.2,608.46 1409.1,608.46 1409.1,602.39 1409.8,602.39 1409.8,596.31 1410.7,596.31 1410.7,590.24 1411.7,590.24 1411.7,584.41 1412.1,584.41 1412.1,578.78 1413.1,578.78 1413.1,573.15 1414.0,573.15 1414.0,567.52 1414.6,567.52 1414.6,562.36 1415.4,562.36 1415.4,557.85 1416.5,557.85 1416.5,553.33 1416.8,553.33 1416.8,548.82 1417.9,548.82 1417.9,544.30 1418.5,544.30 1418.5,539.79 1419.6,539.79 1419.6,535.36 1420.5,535.36 1420.5,530.94 1421.0,530.94 1421.0,526.51 1421.6,526.51 1421.6,522.08 1422.7,522.08 1422.7,516.68 1423.5,516.68 1423.5,511.20 1424.3,511.20 1424.3,505.71 1425.0,505.71 1425.0,500.19 1425.9,500.19 1425.9,494.66 1426.8,494.66 1426.8,489.13 1427.5,489.13 1427.5,483.59 1428.2,483.59 1428.2,478.06 1429.3,478.06 1429.3,473.94 1429.7,473.94 1429.7,470.49 1430.7,470.49 1430.7,467.05 1431.4,467.05 1431.4,463.60 1432.4,463.60 1432.4,460.16 1432.9,460.16 1432.9,450.79 1434.1,450.79 1434.1,439.50 1434.6,439.50 1434.6,434.97 1435.2,434.97 1435.2,430.43 1436.1,430.43 1436.1,425.89 1437.0,425.89 1437.0,421.36 1437.6,421.36 1437.6,416.82 1438.6,416.82 1438.6,412.19 1439.4,412.19 1439.4,405.82 1440.3,405.82 1440.3,399.46 1441.0,399.46 1441.0,393.09 1441.7,393.09 1441.7,386.72 1442.5,386.72 1442.5,380.36 1443.6,380.36 1443.6,374.13 1444.5,374.13 1444.5,367.89 1445.1,367.89 1445.1,361.66 1445.7,361.66 1445.7,355.43 1446.8,355.43 1446.8,349.19 1447.4,349.19 1447.4,342.96 1448.1,342.96 1448.1,337.92 1448.9,337.92 1448.9,333.18 1450.0,333.18 1450.0,328.43 1450.8,328.43 1450.8,323.69 1451.5,323.69 1451.5,321.15 1452.2,321.15 1452.2,319.64 1453.1,319.64 1453.1,318.13 1453.7,318.32 1454.9,318.50 1454.9,319.75 1455.4,319.75 1455.4,321.00 1456.3,321.00 1456.3,322.49 1457.2,322.49 1457.2,328.08 1458.0,328.08 1458.0,333.68 1458.6,333.68 1458.6,339.27 1459.3,339.27 1459.3,345.20 1460.3,345.20 1460.3,351.41 1460.9,351.41 1460.9,357.63 1462.0,357.63 1462.0,363.84 1462.6,363.84 1462.6,370.05 1463.6,370.05 1463.6,375.80 1464.1,375.80 1464.1,380.94 1465.0,380.94 1465.0,386.09 1465.7,386.09 1465.7,391.23 1466.6,391.23 1466.6,395.14 1467.3,395.14 1467.3,396.30 1468.0,396.30 1468.0,397.46 1469.2,397.46 1469.2,398.62 1469.7,398.62 1469.7,399.78 1470.5,399.78 1470.5,400.67 1471.3,400.67 1471.3,401.50 1472.2,401.50 1472.2,402.32 1473.0,402.32 1473.0,403.15 1473.9,403.15 1473.9,403.98 1474.7,403.98 1474.7,404.81 1475.4,404.81 1475.4,405.87 1476.5,405.87 1476.5,407.94 1477.2,407.94 1477.2,410.01 1477.6,410.01 1477.6,412.08 1478.8,412.08 1478.8,414.15 1479.7,414.15 1479.7,416.14 1480.4,416.14 1480.4,416.95 1480.9,416.95 1480.9,417.77 1482.0,417.77 1482.0,418.59 1482.7,418.59 1482.7,419.40 1483.2,419.40 1483.2,420.22 1484.0,420.22 1484.0,421.04 1485.3,421.04 1485.3,425.01 1485.9,425.01 1485.9,431.41 1486.5,431.41 1486.5,437.49 1487.3,437.49 1487.3,438.92 1488.1,438.92 1488.1,440.36 1488.9,440.36 1488.9,441.80 1490.0,441.80 1490.0,443.24 1490.6,443.24 1490.6,444.68 1491.3,444.68 1491.3,446.12 1492.5,446.12 1492.5,447.56 1493.2,447.56 1493.2,451.47 1493.7,451.47 1493.7,455.92 1494.8,455.92 1494.8,460.38 1495.5,460.38 1495.5,464.84 1496.4,464.84 1496.4,468.74 1497.1,468.74 1497.1,472.52 1498.1,472.52 1498.1,476.30 1498.8,476.30 1498.8,479.92 1499.6,479.92 1499.6,481.27 1500.1,481.27 1500.1,482.61 1501.2,482.61 1501.2,483.96 1501.9,483.96 1501.9,485.22 1502.8,485.24 1503.4,485.27 1504.4,485.30 1505.1,485.34 1505.7,485.37 1506.5,485.41 1507.3,485.44 1508.3,485.48 1508.8,485.51 1509.8,485.54 1510.5,485.58 1511.5,485.61 1512.3,485.65 1513.1,485.68 1514.0,485.71 1514.4,485.75 1515.6,485.78 1516.2,485.93 1517.1,486.05 1517.1,487.21 1517.9,487.21 1517.9,488.36 1518.8,488.36 1518.8,489.51 1519.4,489.51 1519.4,491.12 1520.2,491.12 1520.2,494.58 1521.3,494.58 1521.3,498.04 1521.6,498.04 1521.6,501.50 1522.7,501.50 1522.7,504.96 1523.5,504.96 1523.5,508.47 1524.0,508.47 1524.0,512.02 1525.1,512.02 1525.1,515.56 1526.0,515.56 1526.0,519.11 1526.9,519.11 1526.9,521.13 1527.4,521.13 1527.4,522.03 1528.5,522.03 1528.5,522.93 1529.1,522.93 1529.1,523.83 1529.9,523.83 1529.9,524.72 1530.9,524.72 1530.9,525.39 1531.2,525.58 1532.4,525.96 1533.1,526.34 1533.8,526.72 1534.8,527.11 1535.4,527.49 1536.3,527.87 1537.1,528.25 1538.0,528.44 1538.0,529.41 1538.5,529.41 1538.5,531.57 1539.4,531.57 1539.4,533.72 1540.2,533.72 1540.2,535.88 1541.1,535.88 1541.1,538.47 1542.0,538.47 1542.0,541.24 1542.6,541.24 1542.6,544.00 1543.6,544.00 1543.6,546.77 1544.2,546.77 1544.2,549.54 1545.1,549.54 1545.1,552.01 1545.8,552.01 1545.8,554.27 1546.7,554.27 1546.7,556.53 1547.7,556.53 1547.7,558.79 1548.3,558.79 1548.3,561.05 1549.2,561.05 1549.2,561.92 1549.8,561.85 1550.6,561.71 1551.4,561.57 1552.3,561.43 1553.1,561.36 1553.1,562.40 1554.0,562.40 1554.0,564.28 1554.4,564.28 1554.4,566.16 1555.6,566.16 1555.6,568.04 1556.5,568.04 1556.5,569.83 1557.1,569.83 1557.1,571.60 1557.6,571.60 1557.6,573.38 1558.6,573.38 1558.6,575.15 1559.2,575.15 1559.2,576.92 1560.1,576.93 1561.3,576.75 1561.9,576.41 1562.7,576.06 1563.6,575.71 1564.5,575.54 1564.5,577.57 1565.1,577.57 1565.1,580.06 1565.9,580.06 1565.9,582.56 1566.7,582.56 1566.7,585.06 1567.6,585.06 1567.6,586.76 1568.3,586.76 1568.3,587.92 1569.2,587.92 1569.2,589.07 1569.7,589.07 1569.7,590.22 1570.8,590.22 1570.8,590.75 1571.4,590.80 1572.4,590.90 1572.9,591.00 1573.7,591.10 1574.4,591.20 1575.6,591.25 1575.6,591.96 1576.5,591.96 1576.5,593.37 1577.1,593.37 1577.1,594.78 1577.8,594.78 1577.8,596.18 1578.8,596.18 1578.8,597.59 1579.6,597.71 1580.3,597.82 1580.3,595.76 1581.0,595.76 1581.0,593.69 1581.8,593.69 1581.8,591.63 1582.6,591.63 1582.6,587.87 1583.4,587.87 1583.4,583.80 1584.2,583.80 1584.2,579.72 1585.1,579.72 1585.1,577.75 1586.1,577.75 1586.1,583.40 1586.5,583.40 1586.5,587.98 1587.5,587.98 1587.5,588.70 1588.0,588.70 1588.0,589.42 1588.9,589.42 1588.9,590.14 1590.0,590.30 1590.7,590.46 1591.7,590.49 1592.2,590.51 1592.8,590.54 1593.8,590.56 1594.7,590.59 1595.7,590.62 1596.5,590.64 1597.1,590.67 1597.8,590.68 1597.8,591.27 1598.5,591.27 1598.5,592.94 1599.5,592.94 1599.5,594.60 1600.1,594.60 1600.1,596.27 1600.9,596.27 1600.9,599.55 1601.6,599.55 1601.6,603.14 1602.4,603.14 1602.4,606.72 1603.6,606.72 1603.6,610.30 1604.1,610.30 1604.1,613.89 1605.3,613.89 1605.3,617.46 1605.7,617.46 1605.7,621.02 1606.9,621.02 1606.9,624.59 1607.3,624.59 1607.3,628.15 1608.0,628.15 1608.0,629.09 1609.2,629.32 1609.7,629.78 1610.8,630.05 1611.3,630.08 1611.3,626.52 1612.1,626.52 1612.1,622.95 1613.2,622.95 1613.2,619.67 1614.0,619.67 1614.0,619.00 1614.9,619.00 1614.9,618.33 1615.6,618.33 1615.6,617.66 1616.1,617.66 1616.1,618.91 1617.1,618.91 1617.1,622.28 1618.0,622.28 1618.0,625.66 1618.7,625.66 1618.7,629.01 1619.7,629.01 1619.7,632.14 1620.2,632.14 1620.2,635.27 1621.3,635.27 1621.3,638.40 1622.0,638.40 1622.0,641.54 1622.4,641.54 1622.4,644.67 1623.2,644.67 1623.2,647.80 1624.4,647.80 1624.4,651.05 1625.2,651.05 1625.2,654.53 1625.7,654.53 1625.7,658.01 1626.6,658.01 1626.6,661.49 1627.6,661.49 1627.6,664.97 1628.1,664.97 1628.1,668.45 1629.3,668.45 1629.3,671.99 1629.9,671.99 1629.9,675.77 1630.5,675.77 1630.5,679.55 1631.4,679.55 1631.4,683.33 1632.3,683.33 1632.3,687.11 1633.1,687.11 1633.1,689.85 1634.0,689.85 1634.0,691.91 1634.5,691.91 1634.5,693.97 1635.6,693.97 1635.6,695.31 1636.2,695.31 1636.2,696.19 1637.2,696.19 1637.2,697.07 1637.9,697.07 1637.9,697.95 1638.6,697.95 1638.6,698.83 1639.4,698.83 1639.4,699.95 1640.4,699.95 1640.4,701.53 1641.3,701.53 1641.3,703.10 1642.0,703.10 1642.0,704.68 1642.7,704.68 1642.7,705.93 1643.4,705.93 1643.4,704.47 1644.1,704.47 1644.1,703.02 1645.3,703.02 1645.3,701.56 1646.0,701.56 1646.0,700.11 1646.9,700.11 1646.9,698.65 1647.4,698.40 1648.3,698.08 1649.3,697.93 1650.1,697.78 1650.7,697.63 1651.4,697.49 1652.3,697.41 1652.3,698.23 1653.3,698.23 1653.3,699.21 1653.8,699.21 1653.8,700.19 1654.8,700.19 1654.8,701.16 1655.5,701.16 1655.5,702.14 1656.5,702.06 1657.2,701.99 1657.2,701.11 1657.8,701.11 1657.8,700.24 1658.4,700.24 1658.4,699.37 1659.4,699.37 1659.4,698.49 1660.3,698.49 1660.3,697.62 1661.1,697.54 1662.0,697.51 1662.9,697.61 1663.3,697.70 1664.5,697.96 1665.2,698.17 1665.2,699.61 1666.1,699.61 1666.1,701.05 1666.7,701.05 1666.7,702.49 1667.4,702.49 1667.4,705.57 1668.5,705.57 1668.5,709.69 1669.2,709.69 1669.2,713.80 1670.0,713.80 1670.0,717.65 1670.9,717.65 1670.9,721.32 1671.4,721.32 1671.4,724.99 1672.1,724.99 1672.1,728.67 1673.1,728.67 1673.1,732.12 1674.0,732.12 1674.0,733.90 1674.5,733.90 1674.5,735.69 1675.6,735.69 1675.6,737.47 1676.5,737.47 1676.5,739.26 1677.0,739.26 1677.0,741.04 1677.9,741.04 1677.9,743.14 1678.8,743.14 1678.8,745.79 1679.5,745.79 1679.5,748.43 1680.1,748.43 1680.1,751.04 1681.0,751.04 1681.0,753.55 1682.0,753.55 1682.0,756.07 1682.8,756.07 1682.8,758.05 1683.5,758.05 1683.5,759.14 1684.1,759.14 1684.1,760.23 1685.2,760.23 1685.2,761.32 1686.0,761.32 1686.0,767.77 1686.6,767.77 1686.6,773.78 1687.5,773.78 1687.5,777.73 1688.5,777.73 1688.5,779.12 1689.3,779.12 1689.3,780.51 1689.9,780.51 1689.9,781.49 1690.7,781.63 1691.5,781.91 1692.1,782.19 1692.9,782.47 1693.7,782.60 1694.8,782.57 1695.4,782.55 1696.3,782.53 1697.0,782.50 1697.9,782.48 1698.5,782.46 1699.3,782.44 1699.3,781.91 1700.5,781.91 1700.5,781.08 1701.0,781.08 1701.0,780.25 1701.7,780.25 1701.7,779.41 1702.8,779.41 1702.8,775.32 1703.6,775.32 1703.6,770.76 1704.1,770.76 1704.1,765.57 1705.1,765.57 1705.1,760.00 1705.8,760.00 1705.8,754.79 1706.7,754.79 1706.7,750.16 1707.3,750.16 1707.3,745.53 1708.3,745.53 1708.3,743.22"/></g>
<text font-weight="700"><tspan x="370.81" y="95.8" font-size="55" textLength="153.7" lengthAdjust="spacingAndGlyphs">Blood,</tspan> <tspan x="537.07" y="95.8" font-size="55" textLength="162.81" lengthAdjust="spacingAndGlyphs">Sweat,</tspan> <tspan x="711.33" y="95.8" font-size="55" textLength="36.94" lengthAdjust="spacingAndGlyphs">&amp;</tspan> <tspan x="759.71" y="95.8" font-size="55" textLength="140.76" lengthAdjust="spacingAndGlyphs">Beers</tspan>  <tspan x="926.02" y="95.0" font-size="62">-</tspan> <tspan x="959.51" y="95.8" font-size="55" textLength="235.36" lengthAdjust="spacingAndGlyphs">Marathon</tspan> <tspan x="1206.69" y="95.8" font-size="55" textLength="222.41" lengthAdjust="spacingAndGlyphs">elevation</tspan></text>
<text x="166.85" y="215.2" font-size="48" textLength="116.21" lengthAdjust="spacingAndGlyphs">3,600</text>
<text x="166.85" y="512.9" font-size="48" textLength="116.21" lengthAdjust="spacingAndGlyphs">3,200</text>
<text x="166.33" y="810.6" font-size="48" textLength="116.66" lengthAdjust="spacingAndGlyphs">2,800</text>
<text x="166.33" y="1108.3" font-size="48" textLength="116.66" lengthAdjust="spacingAndGlyphs">2,400</text>
<text x="287.09" y="1168.5" font-size="48" textLength="65.09" lengthAdjust="spacingAndGlyphs">0.0</text>
<text x="555.79" y="1168.5" font-size="48" textLength="64.45" lengthAdjust="spacingAndGlyphs">5.0</text>
<text x="808.26" y="1168.5" font-size="48" textLength="92.57" lengthAdjust="spacingAndGlyphs">10.0</text>
<text x="1078.42" y="1168.5" font-size="48" textLength="91.38" lengthAdjust="spacingAndGlyphs">15.0</text>
<text x="1346.37" y="1168.5" font-size="48" textLength="92.2" lengthAdjust="spacingAndGlyphs">20.0</text>
<text x="1614.66" y="1168.5" font-size="48" textLength="92.25" lengthAdjust="spacingAndGlyphs">25.0</text>
<text x="1660.9" y="1168.5" font-size="48" textLength="92.47" lengthAdjust="spacingAndGlyphs">25.9</text>
<text><tspan x="759.66" y="1258.6" font-size="48" textLength="183.62" lengthAdjust="spacingAndGlyphs">Distance</tspan> <tspan x="955.03" y="1258.6" font-size="48" textLength="84.26" lengthAdjust="spacingAndGlyphs">(mi)</tspan></text>
<text transform="rotate(-90 90.1 807.67)"><tspan x="90.1" y="807.67" font-size="48" textLength="190.43" lengthAdjust="spacingAndGlyphs">Elevation</tspan> <tspan x="292.83" y="807.67" font-size="48" textLength="63.09" lengthAdjust="spacingAndGlyphs">(ft)</tspan></text>
</svg>
</body></html>
